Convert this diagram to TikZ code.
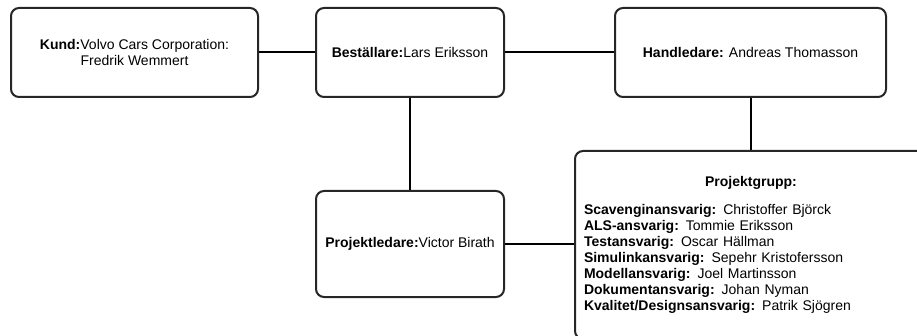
\documentclass[tikz,border=0pt]{standalone}
\usepackage{fontspec}
\setmainfont{Liberation Sans}
\definecolor{boxline}{HTML}{262626}
\usepackage{tikz}
\usetikzlibrary{positioning, calc}
\newcommand{\link}[2]
{
	\draw (#1) -- (#2)
}

\begin{document}
\begin{tikzpicture}[x=1pt, y=-1pt,
	line width=2pt,
	every node/.append style={shape=rectangle, rounded corners=8pt,
		draw=boxline, align=center, font=\fontsize{14}{16}\selectfont,
		inner sep=0pt}]

	\useasboundingbox (0, 0) rectangle (917, 336);
	\clip (0, 0) rectangle (917, 336);

	\node[minimum width=247pt, minimum height=89pt] at (134.5, 52.5) (K){\textbf{Kund:}Volvo Cars Corporation:\\Fredrik Wemmert};
	\node[minimum width=188pt, minimum height=89pt] at (410, 52.5) (B){\textbf{Beställare:}Lars Eriksson};
	\node[minimum width=271pt, minimum height=89pt] at (750.5, 52.5) (H){\textbf{Handledare:} Andreas Thomasson};
	\node[minimum width=188pt, minimum height=106pt] at (410, 244) (PL){\textbf{Projektledare:}Victor Birath};
	\node[anchor=north west, text width=334pt, inner xsep=9pt, minimum height=188pt, align=left] at (574, 150) (PG){%
		{\centering\textbf{Projektgrupp:}\par}\vspace{12pt}
		\textbf{Scavenginansvarig:} Christoffer Björck\\
		\textbf{ALS-ansvarig:} Tommie Eriksson\\
		\textbf{Testansvarig:} Oscar Hällman\\
		\textbf{Simulinkansvarig:} Sepehr Kristofersson\\
		\textbf{Modellansvarig:} Joel Martinsson\\
		\textbf{Dokumentansvarig:} Johan Nyman\\
		\textbf{Kvalitet/Designsansvarig:} Patrik Sjögren};

	\link{K.east}{B.west};
	\link{B.east}{H.west};
	\link{B.south}{PL.north};
	\link{H.south}{H.south |- PG.north};
	\link{PL.east}{PL.east -| PG.west};
\end{tikzpicture}
\end{document}
